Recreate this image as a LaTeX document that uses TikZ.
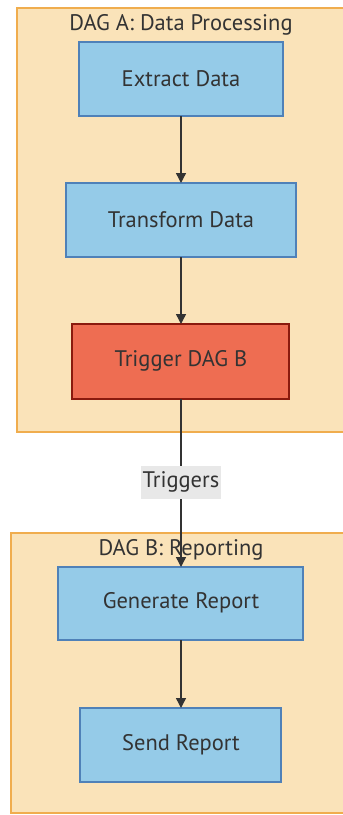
\documentclass[tikz,border=0pt]{standalone}
\usepackage{fontspec}
\setmainfont{PT Sans}
\usetikzlibrary{arrows.meta}
\definecolor{clfill}{HTML}{FAE3B9}
\definecolor{cldraw}{HTML}{F0AD4E}
\definecolor{bfill}{HTML}{95CBE8}
\definecolor{bdraw}{HTML}{4F81B8}
\definecolor{rfill}{HTML}{EE6D52}
\definecolor{rdraw}{HTML}{8A1A0E}
\definecolor{ink}{HTML}{333333}
\definecolor{lblfill}{HTML}{E8E8E8}
\tikzset{
  txt/.style={text=ink, font=\fontsize{22.5}{26}\selectfont},
  cluster/.style={draw=cldraw, fill=clfill, line width=2pt},
  task/.style={draw=bdraw, fill=bfill, line width=2pt},
  trig/.style={draw=rdraw, fill=rfill, line width=2pt},
  flow/.style={draw=ink, line width=1.4pt, -{Triangle[length=10pt,width=10pt]}},
  edgelabel/.style={txt, fill=lblfill, inner sep=2pt}
}
\begin{document}
\begin{tikzpicture}[x=1pt,y=-1pt]
\useasboundingbox (0,0) rectangle (343,815);
% subgraph frames
\draw[cluster] (17,8) rectangle (350,432);
\draw[cluster] (11,533) rectangle (350,813);
\node[txt] (ta) at (181,25) {DAG A: Data Processing};
% tasks
\path[task] (79,42) rectangle (283,116);
\node[txt] (extract) at (181,79) {Extract Data};
\coordinate (extractS) at (181,116);
\path[task] (66,183) rectangle (296,257);
\node[txt] (transform) at (181,220) {Transform Data};
\coordinate (transformN) at (181,183);
\coordinate (transformS) at (181,257);
\path[trig] (72,324) rectangle (289,399);
\node[txt] (trigger) at (181,361) {Trigger DAG B};
\coordinate (triggerN) at (181,324);
\coordinate (triggerS) at (181,399);
\node[txt] (tb) at (181,550) {DAG B: Reporting};
\path[task] (58,567) rectangle (303,640);
\node[txt] (generate) at (181,603) {Generate Report};
\coordinate (generateN) at (181,567);
\coordinate (generateS) at (181,640);
\path[task] (80,708) rectangle (281,782);
\node[txt] (send) at (181,745) {Send Report};
\coordinate (sendN) at (181,708);
% connectors
\draw[flow] (extractS) -- (transformN);
\draw[flow] (transformS) -- (triggerN);
\draw[flow] (triggerS) -- (generateN);
\draw[flow] (generateS) -- (sendN);
\node[edgelabel, minimum width=76pt, minimum height=33pt] (lbl) at (181,482) {Triggers};
\end{tikzpicture}
\end{document}
